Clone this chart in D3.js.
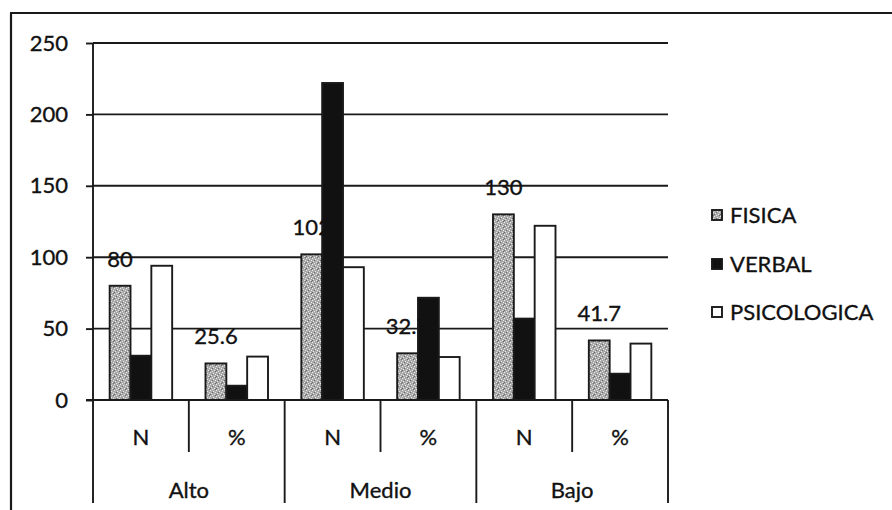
<!DOCTYPE html>
<html>
<head>
<meta charset="utf-8">
<script src="https://cdn.jsdelivr.net/npm/d3@7"></script>
<style>
  html, body { margin: 0; padding: 0; background: #fff; }
  svg { display: block; }
  text { font-family: Lato, "Open Sans", sans-serif; fill: #111; stroke: #111; stroke-width: 0.35px; }
</style>
</head>
<body>
<svg id="chart" width="892" height="510"></svg>
<script>
// ---- data ----
const groups = ["Alto", "Medio", "Bajo"];
const subCats = ["N", "%"];
const seriesNames = ["FISICA", "VERBAL", "PSICOLOGICA"];
const fisica      = [80, 25.6, 102, 32.7, 130, 41.7];
const verbal      = [31, 10.0, 222, 71.6, 57, 18.4];
const psicologica = [94, 30.4, 93, 30.1, 122, 39.5];
const fisicaLabels = ["80", "25.6", "102", "32.7", "130", "41.7"];
const yTicks = [0, 50, 100, 150, 200, 250];

// ---- build ----
const svg = d3.select("#chart");
const ink = "#1a1a1a";
const sw = 1.9;

// pattern for FISICA (speckled grey)
const defs = svg.append("defs");
const pat = defs.append("pattern").attr("id", "speckle")
  .attr("width", 6).attr("height", 6).attr("patternUnits", "userSpaceOnUse");
pat.append("rect").attr("width", 6).attr("height", 6).attr("fill", "#a9a9a9");
[[0,0],[3,1],[1,3],[4,4],[5,2],[2,5]].forEach(([a,b]) =>
  pat.append("rect").attr("x", a).attr("y", b).attr("width", 1).attr("height", 1).attr("fill", "#e8e8e8"));
[[2,2],[5,5],[0,4]].forEach(([a,b]) =>
  pat.append("rect").attr("x", a).attr("y", b).attr("width", 1).attr("height", 1).attr("fill", "#6a6a6a"));

const fills = { FISICA: "url(#speckle)", VERBAL: "#111", PSICOLOGICA: "#fff" };

const plotL = 93, plotR = 668, plotT = 43, plotB = 400;

const cats = [];
groups.forEach(g => subCats.forEach(s => cats.push(g + "|" + s)));

const y = d3.scaleLinear().domain([0, 250]).range([plotB, plotT]);
const x0 = d3.scaleBand().domain(cats).range([plotL, plotR]).paddingInner(0).paddingOuter(0);
const x1 = d3.scaleBand().domain(seriesNames).range([0, x0.bandwidth()])
  .paddingInner(0).paddingOuter(0.8);

// outer border (left and top)
svg.append("line").attr("x1", 11).attr("x2", 11).attr("y1", 13).attr("y2", 510)
  .attr("stroke", ink).attr("stroke-width", 2.2);
svg.append("line").attr("x1", 10).attr("x2", 892).attr("y1", 13).attr("y2", 13)
  .attr("stroke", ink).attr("stroke-width", 2.2);

// gridlines
svg.append("g").selectAll("line").data(yTicks.filter(t => t > 0)).join("line")
  .attr("x1", plotL).attr("x2", plotR)
  .attr("y1", d => y(d)).attr("y2", d => y(d))
  .attr("stroke", ink).attr("stroke-width", sw);

// y axis
const yAxis = svg.append("g").attr("transform", `translate(${plotL},0)`)
  .call(d3.axisLeft(y).tickValues(yTicks).tickSize(7).tickPadding(18));
yAxis.select(".domain").remove();
yAxis.selectAll(".tick line").attr("stroke", ink).attr("stroke-width", sw);
yAxis.selectAll(".tick text").style("font-size", "22px").style("font-family", "Lato, sans-serif")
  .attr("fill", "#111").attr("stroke", "#111").attr("stroke-width", 0.35);

// bars
const seriesData = { FISICA: fisica, VERBAL: verbal, PSICOLOGICA: psicologica };
const barG = svg.append("g");
cats.forEach((c, i) => {
  seriesNames.forEach(s => {
    const v = seriesData[s][i];
    barG.append("rect")
      .attr("x", x0(c) + x1(s))
      .attr("y", y(v))
      .attr("width", x1.bandwidth())
      .attr("height", y(0) - y(v))
      .attr("fill", fills[s])
      .attr("stroke", ink).attr("stroke-width", sw);
  });
});

// data labels for FISICA
svg.append("g").selectAll("text").data(cats).join("text")
  .attr("x", (c) => x0(c) + x1("FISICA") + x1.bandwidth() / 2)
  .attr("y", (c, i) => y(fisica[i]) - 19)
  .attr("text-anchor", "middle")
  .style("font-size", "22px")
  .text((c, i) => fisicaLabels[i]);

// axes lines
svg.append("line").attr("x1", plotL).attr("x2", plotL).attr("y1", plotT).attr("y2", 503)
  .attr("stroke", ink).attr("stroke-width", sw);
svg.append("line").attr("x1", plotL - 7).attr("x2", plotR).attr("y1", plotB).attr("y2", plotB)
  .attr("stroke", ink).attr("stroke-width", 2);

// category separators
cats.forEach((c, i) => {
  const xr = x0(c) + x0.bandwidth();
  const isGroupEnd = (i % 2 === 1);
  svg.append("line").attr("x1", xr).attr("x2", xr)
    .attr("y1", plotB).attr("y2", isGroupEnd ? 503 : 452)
    .attr("stroke", ink).attr("stroke-width", sw);
});

// sub-category labels
svg.append("g").selectAll("text").data(cats).join("text")
  .attr("x", c => x0(c) + x0.bandwidth() / 2)
  .attr("y", 437)
  .attr("dy", "0.36em")
  .attr("text-anchor", "middle")
  .style("font-size", "22px")
  .text(c => c.split("|")[1]);

// group labels
svg.append("g").selectAll("text").data(groups).join("text")
  .attr("x", g => (x0(g + "|N") + x0(g + "|%") + x0.bandwidth()) / 2)
  .attr("y", 490)
  .attr("dy", "0.36em")
  .attr("text-anchor", "middle")
  .style("font-size", "22px")
  .text(g => g);

// legend
const legendY = [215, 264, 312];
const lg = svg.append("g");
seriesNames.forEach((s, i) => {
  lg.append("rect").attr("x", 712).attr("y", legendY[i] - 5).attr("width", 10).attr("height", 10)
    .attr("fill", fills[s]).attr("stroke", ink).attr("stroke-width", sw);
  lg.append("text").attr("x", 730).attr("y", legendY[i]).attr("dy", "0.36em")
    .style("font-size", "22px").text(s);
});
</script>
</body>
</html>
